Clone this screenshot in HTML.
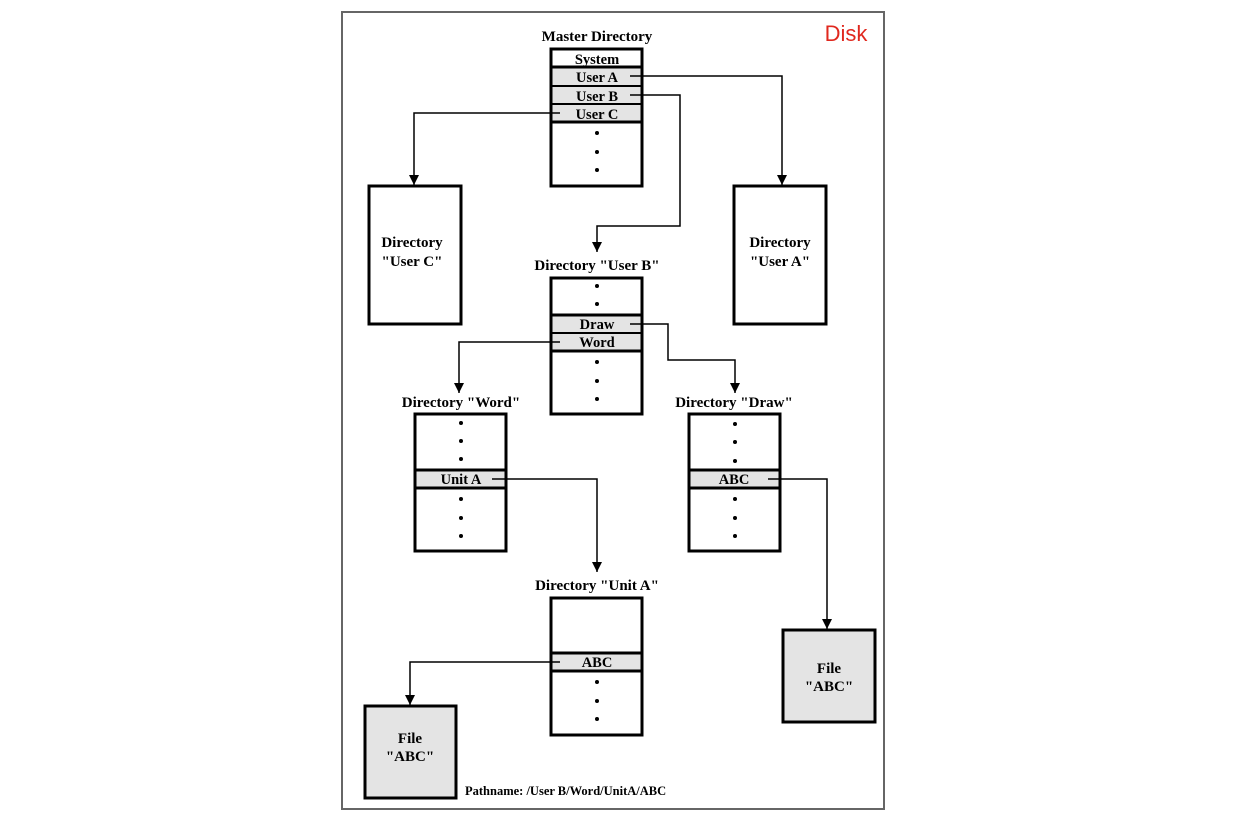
<!DOCTYPE html>
<html><head><meta charset="utf-8"><style>
html,body{margin:0;padding:0;background:#fff;width:1238px;height:828px;overflow:hidden}
svg text{font-family:"Liberation Serif",serif;font-weight:bold;font-size:14.5px;text-anchor:middle}
svg text.t{font-size:15px}
</style></head><body>
<svg width="1238" height="828" viewBox="0 0 1238 828" xmlns="http://www.w3.org/2000/svg">
<defs><marker id="a" markerWidth="10" markerHeight="10" refX="10" refY="5" orient="auto" markerUnits="userSpaceOnUse"><path d="M0,0 L10,5 L0,10 z" fill="#000"/></marker></defs>
<rect x="342" y="12" width="542" height="797" fill="#fff" stroke="#666" stroke-width="2"/>
<text x="846" y="41" style="font-family:'Liberation Sans',sans-serif;font-weight:normal;font-size:22px;fill:#e0281e">Disk</text>

<g stroke="#000" stroke-width="3" fill="#fff">
<rect x="551" y="49" width="91" height="137"/>
<rect x="551" y="67" width="91" height="55" fill="#e4e4e4"/>
<line x1="551" y1="86" x2="642" y2="86" stroke-width="2"/>
<line x1="551" y1="104" x2="642" y2="104" stroke-width="2"/>
<rect x="369" y="186" width="92" height="138"/>
<rect x="734" y="186" width="92" height="138"/>
<rect x="551" y="278" width="91" height="136"/>
<rect x="551" y="315" width="91" height="36" fill="#e4e4e4"/>
<line x1="551" y1="333" x2="642" y2="333" stroke-width="2"/>
<rect x="415" y="414" width="91" height="137"/>
<rect x="415" y="470" width="91" height="18" fill="#e4e4e4"/>
<rect x="689" y="414" width="91" height="137"/>
<rect x="689" y="470" width="91" height="18" fill="#e4e4e4"/>
<rect x="551" y="598" width="91" height="137"/>
<rect x="551" y="653" width="91" height="18" fill="#e4e4e4"/>
<rect x="365" y="706" width="91" height="92" fill="#e4e4e4"/>
<rect x="783" y="630" width="92" height="92" fill="#e4e4e4"/>
</g>

<g stroke="#000" stroke-width="1.5" fill="none">
<polyline points="630,76 782,76 782,185" marker-end="url(#a)"/>
<polyline points="630,95 680,95 680,226 597,226 597,252" marker-end="url(#a)"/>
<polyline points="560,113 414,113 414,185" marker-end="url(#a)"/>
<polyline points="630,324 668,324 668,360 735,360 735,393" marker-end="url(#a)"/>
<polyline points="560,342 459,342 459,393" marker-end="url(#a)"/>
<polyline points="492,479 597,479 597,572" marker-end="url(#a)"/>
<polyline points="560,662 410,662 410,705" marker-end="url(#a)"/>
<polyline points="768,479 827,479 827,629" marker-end="url(#a)"/>
</g>

<g fill="#000">
<circle cx="597" cy="133" r="2"/><circle cx="597" cy="152" r="2"/><circle cx="597" cy="170" r="2"/>
<circle cx="597" cy="286" r="2"/><circle cx="597" cy="304" r="2"/>
<circle cx="597" cy="362" r="2"/><circle cx="597" cy="381" r="2"/><circle cx="597" cy="399" r="2"/>
<circle cx="461" cy="423" r="2"/><circle cx="461" cy="441" r="2"/><circle cx="461" cy="459" r="2"/>
<circle cx="461" cy="499" r="2"/><circle cx="461" cy="518" r="2"/><circle cx="461" cy="536" r="2"/>
<circle cx="735" cy="424" r="2"/><circle cx="735" cy="442" r="2"/><circle cx="735" cy="461" r="2"/>
<circle cx="735" cy="499" r="2"/><circle cx="735" cy="518" r="2"/><circle cx="735" cy="536" r="2"/>
<circle cx="597" cy="682" r="2"/><circle cx="597" cy="701" r="2"/><circle cx="597" cy="719" r="2"/>

<text class="t" x="597" y="41">Master Directory</text>
<text x="597" y="64">System</text>
<text x="597" y="82">User A</text>
<text x="597" y="101">User B</text>
<text x="597" y="119">User C</text>
<text class="t" x="412" y="247">Directory</text>
<text class="t" x="412" y="266">"User C"</text>
<text class="t" x="780" y="247">Directory</text>
<text class="t" x="780" y="266">"User A"</text>
<text class="t" x="597" y="270">Directory "User B"</text>
<text x="597" y="329">Draw</text>
<text x="597" y="347">Word</text>
<text class="t" x="461" y="407">Directory "Word"</text>
<text class="t" x="734" y="407">Directory "Draw"</text>
<text x="461" y="484">Unit A</text>
<text x="734" y="484">ABC</text>
<text class="t" x="597" y="590">Directory "Unit A"</text>
<text x="597" y="667">ABC</text>
<text class="t" x="410" y="743">File</text>
<text class="t" x="410" y="761">"ABC"</text>
<text class="t" x="829" y="673">File</text>
<text class="t" x="829" y="691">"ABC"</text>
<text x="465" y="795" style="text-anchor:start;font-size:12.5px">Pathname: /User B/Word/UnitA/ABC</text>
</g>
</svg>
</body></html>
